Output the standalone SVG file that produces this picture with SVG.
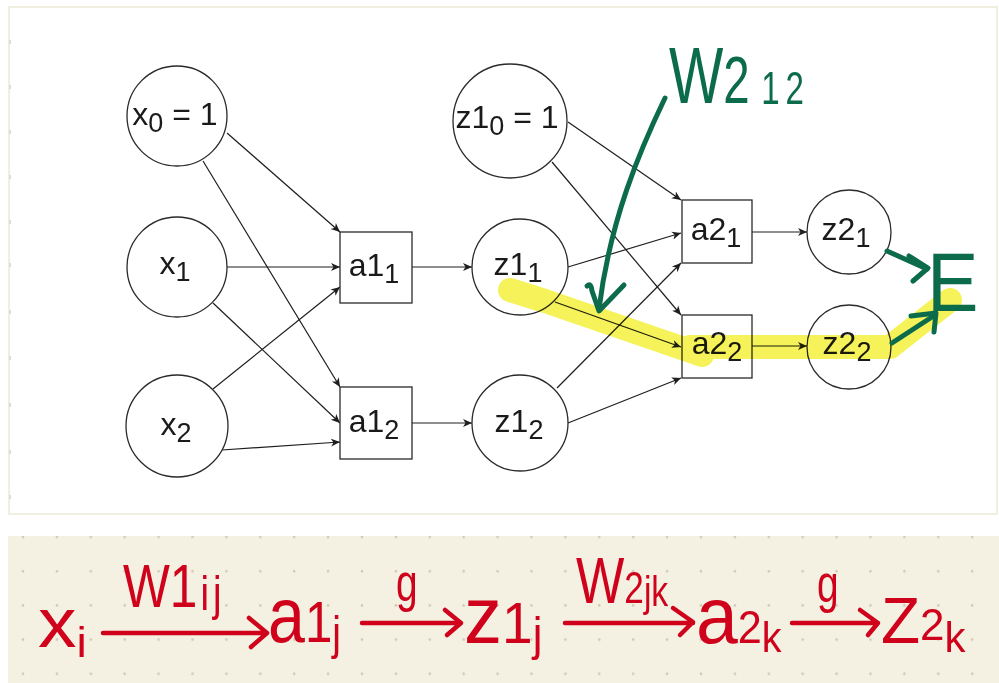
<svg xmlns="http://www.w3.org/2000/svg" width="999" height="683" viewBox="0 0 999 683">
<defs>
<style>
.node{fill:#fff;stroke:#2a2a2a;stroke-width:1.3}
.lbl{font-family:"Liberation Sans",Arial,sans-serif;font-size:32px;fill:#1a1a1a;text-anchor:middle}
.sub{font-size:27px}
.edge{fill:none;stroke:#1e1e1e;stroke-width:1.2;marker-end:url(#ah)}
.hl{fill:none;stroke:#f5f25a;stroke-width:24;stroke-linecap:round;stroke-linejoin:round}
.gr{fill:none;stroke:#0c6b4b;stroke-width:5;stroke-linecap:round;stroke-linejoin:round}
.grt{font-family:"Liberation Sans",Arial,sans-serif;fill:#0c6b4b}
.rd{fill:none;stroke:#d0021b;stroke-width:4.5;stroke-linecap:round;stroke-linejoin:round}
.rdt{font-family:"Liberation Sans",Arial,sans-serif;fill:#d0021b}
</style>
<marker id="ah" markerWidth="10" markerHeight="10" refX="9" refY="5" orient="auto" markerUnits="userSpaceOnUse">
<path d="M0,1 L9,5 L0,9 L2.5,5 z" fill="#1e1e1e"/>
</marker>
<pattern id="dots" patternUnits="userSpaceOnUse" x="6" y="520" width="33.9" height="34.2">
<circle cx="17" cy="17" r="1.3" fill="#cdc9b8"/>
</pattern>
</defs>

<rect x="0" y="0" width="999" height="683" fill="#ffffff"/>
<!-- top panel -->
<rect x="9" y="7" width="988" height="507" fill="#ffffff" stroke="#f1efe0" stroke-width="2"/>
<g fill="#dcdcdc">
<rect x="9" y="40" width="2" height="4"/><rect x="9" y="85" width="2" height="4"/><rect x="9" y="130" width="2" height="4"/><rect x="9" y="175" width="2" height="4"/><rect x="9" y="220" width="2" height="4"/><rect x="9" y="263" width="2" height="4"/><rect x="9" y="310" width="2" height="4"/><rect x="9" y="356" width="2" height="4"/><rect x="9" y="403" width="2" height="4"/><rect x="9" y="450" width="2" height="4"/><rect x="9" y="495" width="2" height="4"/>
</g>
<!-- bottom panel -->
<rect x="8" y="536" width="991" height="147" fill="#f4f1e3"/>
<rect x="8" y="536" width="991" height="147" fill="url(#dots)"/>

<!-- connectors -->
<g id="connectors">
<path class="edge" d="M227,133 L340,232"/>
<path class="edge" d="M203,161 L340,387"/>
<path class="edge" d="M227,267 L340,267"/>
<path class="edge" d="M213,303 L340,423"/>
<path class="edge" d="M213,389 L340,287"/>
<path class="edge" d="M222,450 L340,442"/>
<path class="edge" d="M412,267 L472,267"/>
<path class="edge" d="M412,423 L472,423"/>
<path class="edge" d="M568,122 L681,200"/>
<path class="edge" d="M552,162 L681,315"/>
<path class="edge" d="M568,267 L681,233"/>
<path class="edge" d="M555,302 L681,347"/>
<path class="edge" d="M557,388 L681,263"/>
<path class="edge" d="M568,423 L681,378"/>
<path class="edge" d="M752,232 L807,232"/>
<path class="edge" d="M752,346 L807,346"/>
</g>

<!-- nodes -->
<g id="node-x0"><circle class="node" cx="177" cy="116" r="50"/><text class="lbl" x="175" y="125">x<tspan class="sub" dy="7">0</tspan><tspan dy="-7"> = 1</tspan></text></g>
<g id="node-x1"><circle class="node" cx="177" cy="267" r="50"/><text class="lbl" x="175" y="274">x<tspan class="sub" dy="7">1</tspan></text></g>
<g id="node-x2"><circle class="node" cx="177" cy="426" r="51"/><text class="lbl" x="176" y="435">x<tspan class="sub" dy="7">2</tspan></text></g>
<g id="node-a1_1"><rect class="node" x="340" y="232" width="72" height="71"/><text class="lbl" x="374" y="276">a1<tspan class="sub" dy="7">1</tspan></text></g>
<g id="node-a1_2"><rect class="node" x="340" y="387" width="72" height="72"/><text class="lbl" x="374" y="432">a1<tspan class="sub" dy="7">2</tspan></text></g>
<g id="node-z1_0"><circle class="node" cx="510" cy="121" r="57"/><text class="lbl" x="507" y="128">z1<tspan class="sub" dy="7">0</tspan><tspan dy="-7"> = 1</tspan></text></g>
<g id="node-z1_1"><circle class="node" cx="520" cy="267" r="48"/><text class="lbl" x="518" y="275">z1<tspan class="sub" dy="7">1</tspan></text></g>
<g id="node-z1_2"><circle class="node" cx="520" cy="423" r="48"/><text class="lbl" x="519" y="432">z1<tspan class="sub" dy="7">2</tspan></text></g>
<g id="node-a2_1"><rect class="node" x="682" y="200" width="70" height="63"/><text class="lbl" x="716" y="240">a2<tspan class="sub" dy="7">1</tspan></text></g>
<g id="node-a2_2"><rect class="node" x="682" y="315" width="70" height="63"/><text class="lbl" x="717" y="354">a2<tspan class="sub" dy="7">2</tspan></text></g>
<g id="node-z2_1"><circle class="node" cx="849" cy="232" r="42"/><text class="lbl" x="846" y="240">z2<tspan class="sub" dy="7">1</tspan></text></g>
<g id="node-z2_2"><circle class="node" cx="849" cy="347" r="42"/><text class="lbl" x="847" y="354">z2<tspan class="sub" dy="7">2</tspan></text></g>

<!-- highlight (multiplied over the nodes, like a marker pen) -->
<g id="highlight" style="mix-blend-mode:multiply">
<path class="hl" d="M510,290 L545,301 L702,355"/>
<path class="hl" d="M690,347 L890,347 L950,300"/>
</g>

<!-- green annotations -->
<g id="annotation-w212">
<text class="grt" transform="translate(669,103) scale(0.72,1)" x="0" y="0" font-size="80">W<tspan font-size="66">2</tspan><tspan font-size="46" dx="16" dy="1" letter-spacing="8">12</tspan></text>
<path class="gr" d="M665,98 C640,150 610,220 599,309"/>
<path class="gr" d="M587,286 Q591,282 592,291 L599,311 L624,285"/>
</g>
<g id="annotation-E">
<text class="grt" transform="translate(927,311) scale(0.92,1)" x="0" y="0" font-size="84">E</text>
<path class="gr" d="M887,251 L927,269"/>
<path class="gr" d="M909,256 L928,268 L913,281"/>
<path class="gr" d="M892,343 L935,315"/>
<path class="gr" d="M911,316 L936,313 L934,332"/>
</g>

<!-- red formula -->
<g id="formula">
<text class="rdt" transform="translate(38,647) scale(1.1,1)" x="0" y="0" font-size="70">x<tspan font-size="42" dy="10">i</tspan></text>
<path class="rd" d="M103,633 L266,633 M249,618 L267,633 L251,647"/>
<text class="rdt" transform="translate(123,607) scale(0.8,1)" x="0" y="0" font-size="62">W1<tspan font-size="48" dx="4" dy="3" letter-spacing="5">ij</tspan></text>
<text class="rdt" transform="translate(268,642) scale(0.85,1)" x="0" y="0" font-size="78">a<tspan font-size="58">1</tspan><tspan font-size="46" dy="7">j</tspan></text>
<path class="rd" d="M362,623 L461,623 M445,610 L461,623 L447,635"/>
<text class="rdt" transform="translate(396,601) scale(0.72,1)" x="0" y="0" font-size="54">g</text>
<text class="rdt" transform="translate(464,643) scale(0.95,1)" x="0" y="0" font-size="80">z<tspan font-size="58">1</tspan><tspan font-size="46" dy="7">j</tspan></text>
<path class="rd" d="M565,623 L693,623 M673,608 L693,622 L680,635"/>
<text class="rdt" transform="translate(576,603) scale(0.8,1)" x="0" y="0" font-size="64">W<tspan font-size="44">2</tspan><tspan font-size="42" dy="3">jk</tspan></text>
<text class="rdt" transform="translate(696,643) scale(0.94,1)" x="0" y="0" font-size="80">a<tspan font-size="46">2</tspan><tspan font-size="42" dy="9">k</tspan></text>
<path class="rd" d="M792,623 L878,623 M860,610 L878,623 L868,635"/>
<text class="rdt" transform="translate(817,602) scale(0.72,1)" x="0" y="0" font-size="54">g</text>
<text class="rdt" transform="translate(881,643) scale(1,1)" x="0" y="0" font-size="64">Z<tspan font-size="44" dy="-3">2</tspan><tspan font-size="42" dy="12">k</tspan></text>
</g>
</svg>
